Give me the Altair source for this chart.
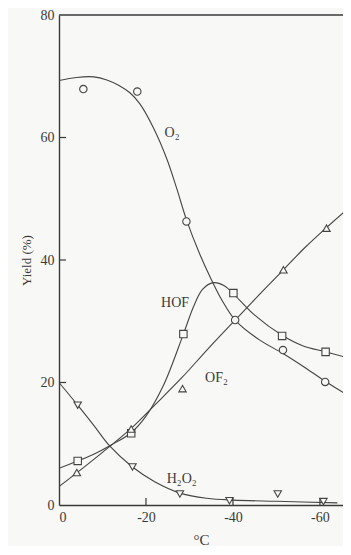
import altair as alt
import pandas as pd

# ---- data ----
# measured points (markers)
o2_x = [-5.6, -18.0, -29.3, -40.5, -51.5, -61.2]
o2_y = [67.9, 67.5, 46.3, 30.2, 25.3, 20.1]
hof_x = [-4.3, -16.6, -28.6, -40.1, -51.3, -61.3]
hof_y = [7.2, 11.7, 27.9, 34.6, 27.6, 25.0]
of2_x = [-4.1, -16.6, -28.4, -51.6, -61.5]
of2_y = [5.3, 12.4, 19.0, 38.4, 45.2]
h2o2_x = [-4.3, -16.9, -27.8, -39.2, -50.3, -60.8]
h2o2_y = [16.3, 6.2, 1.8, 0.7, 1.8, 0.55]

# hand-drawn fitted curves
o2_cx = [0, -4, -8, -11, -13.8, -16.3, -18.6, -21.7, -24.8, -27.1, -29.3, -32.4, -35.1, -37.5, -40.5, -46, -51.6, -56, -61.2, -67.1]
o2_cy = [69.3, 69.8, 69.9, 69.4, 68.5, 67.3, 65.5, 61.6, 56.5, 51.6, 46.6, 40.9, 36.7, 33.4, 30.2, 27.0, 24.7, 22.7, 20.2, 17.6]
hof_cx = [0, -4.3, -8, -12, -16.6, -20, -24, -28.6, -31, -33, -35.5, -38, -40.5, -45, -51.3, -56, -61.3, -65.5]
hof_cy = [6.0, 7.2, 8.3, 9.8, 11.8, 14.5, 19.5, 27.9, 32.5, 35.2, 36.3, 35.8, 34.2, 31.0, 27.7, 26.0, 25.0, 24.2]
of2_cx = [0, -4, -10, -16.6, -22, -28.4, -34, -40.5, -46, -51.6, -56.5, -61.5, -67.1]
of2_cy = [3.0, 5.2, 8.6, 12.5, 16.3, 20.9, 25.3, 30.2, 34.3, 38.4, 42.0, 45.3, 48.8]
h2o2_cx = [0, -4.3, -8, -11.7, -16.9, -22, -28, -34, -40, -50, -64]
h2o2_cy = [20.0, 16.3, 13.0, 9.6, 6.2, 3.8, 1.9, 1.1, 0.8, 0.6, 0.35]

label_text = ["O₂", "HOF", "OF₂", "H₂O₂"]
label_x = [-26.0, -26.7, -36.2, -28.2]
label_y = [60.8, 33.0, 20.7, 4.3]

x_ticks = [0, -20, -40, -60]
y_ticks = [0, 20, 40, 60, 80]

# ---- build tables ----
def pts(name, xs, ys):
    return pd.DataFrame({"t": xs, "y": ys, "s": name})

markers = pd.concat([pts("O2", o2_x, o2_y), pts("HOF", hof_x, hof_y),
                     pts("OF2", of2_x, of2_y), pts("H2O2", h2o2_x, h2o2_y)])
curves = pd.concat([pts("O2", o2_cx, o2_cy), pts("HOF", hof_cx, hof_cy),
                    pts("OF2", of2_cx, of2_cy), pts("H2O2", h2o2_cx, h2o2_cy)])
curves["i"] = range(len(curves))
labels = pd.DataFrame({"t": label_x, "y": label_y, "txt": label_text})
xt = pd.DataFrame({"t": x_ticks[1:]})
yt = pd.DataFrame({"y": y_ticks[1:-1]})
top = pd.DataFrame({"y": [80]})

W, H = 284, 490
INK = "#3a3a3a"
FONT = "Liberation Serif"
BG = "#f8f8f6"

xs = alt.Scale(domain=[0, -65.3], nice=False, zero=False)
ys = alt.Scale(domain=[0, 80], nice=False)

x_axis = alt.Axis(values=x_ticks, ticks=False, grid=False, title="°C", labelFont=FONT,
                  labelFontSize=14, labelColor=INK, labelPadding=5, titleFont=FONT,
                  titleFontSize=15, titleFontWeight="normal", titleColor=INK, titlePadding=8,
                  domainColor=INK, domainWidth=1.4,
                  labelExpr="datum.value == 0 ? '0' : '-' + abs(datum.value)")
y_axis = alt.Axis(values=y_ticks, ticks=False, grid=False, title="Yield (%)", labelFont=FONT,
                  labelFontSize=14, labelColor=INK, labelPadding=5, titleFont=FONT,
                  titleFontSize=13, titleFontWeight="normal", titleColor=INK, titlePadding=7,
                  domainColor=INK, domainWidth=1.4)

base_x = alt.X("t:Q", scale=xs, axis=x_axis)
base_y = alt.Y("y:Q", scale=ys, axis=y_axis)

lines = alt.Chart(curves).mark_line(interpolate="catmull-rom", color="#444", strokeWidth=1.1,
                                    clip=True).encode(
    x=base_x, y=base_y, detail="s:N", order="i:Q")

shape_map = alt.Scale(domain=["O2", "HOF", "OF2", "H2O2"],
                      range=["circle", "square", "triangle-up", "triangle-down"])
marks = alt.Chart(markers).mark_point(filled=True, fill=BG, stroke="#444",
                                      strokeWidth=1.1, size=55, opacity=1).encode(
    x=alt.X("t:Q", scale=xs), y=alt.Y("y:Q", scale=ys),
    shape=alt.Shape("s:N", scale=shape_map, legend=None))

texts = alt.Chart(labels).mark_text(font=FONT, fontSize=14, color=INK).encode(
    x=alt.X("t:Q", scale=xs), y=alt.Y("y:Q", scale=ys), text="txt:N")

xtick = alt.Chart(xt).mark_rule(color=INK, strokeWidth=1.2).encode(
    x=alt.X("t:Q", scale=xs), y=alt.value(H), y2=alt.value(H - 7))
ytick = alt.Chart(yt).mark_rule(color=INK, strokeWidth=1.2).encode(
    y=alt.Y("y:Q", scale=ys), x=alt.value(0), x2=alt.value(7))
topline = alt.Chart(top).mark_rule(color=INK, strokeWidth=1.4).encode(y=alt.Y("y:Q", scale=ys))

chart = alt.layer(lines, marks, texts, xtick, ytick, topline).properties(
    width=W, height=H,
    autosize=alt.AutoSizeParams(type="none"),
    padding={"left": 51, "top": 7, "right": 0, "bottom": 41},
    background=BG,
).configure_view(stroke=None)

chart.save("out.html", embed_options={"renderer": "svg", "actions": False})
